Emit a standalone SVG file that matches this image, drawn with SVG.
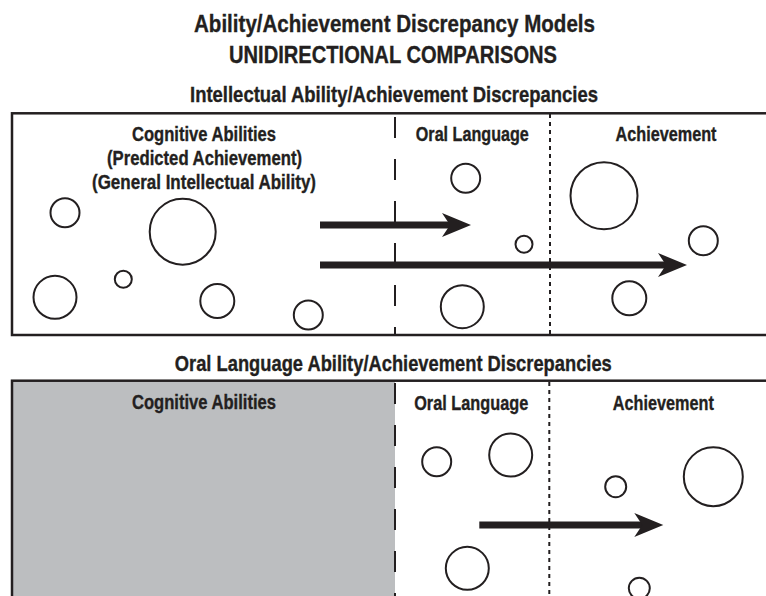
<svg xmlns="http://www.w3.org/2000/svg" width="766" height="596" viewBox="0 0 766 596">
<style>
text{font-family:'Liberation Sans Narrow','Liberation Sans',Arial,sans-serif;font-weight:bold;fill:#231f20;stroke:#231f20;stroke-width:0.35;text-anchor:middle}
.t1{font-size:24.5px}
.t2{font-size:21.5px}
.lb{font-size:19.5px}
.box{fill:none;stroke:#231f20;stroke-width:2.5}
.c{fill:#fff;stroke:#231f20;stroke-width:2}
.dash{stroke:#231f20;stroke-width:2;stroke-dasharray:21 21}
.dot{stroke:#231f20;stroke-width:2;stroke-dasharray:4 4}
.arr{stroke:#231f20;stroke-width:7;fill:none}
</style>
<defs>
<marker id="ah" markerUnits="userSpaceOnUse" viewBox="0 0 30 26" refX="10" refY="13" markerWidth="30" markerHeight="26" orient="auto">
<path d="M0,1 L29,13 L0,25 L8,13 Z" fill="#231f20"/>
</marker>
</defs>
<rect width="766" height="596" fill="#fff"/>
<g id="titles">
<text class="t1" x="394.5" y="31.7" textLength="401" lengthAdjust="spacingAndGlyphs">Ability/Achievement Discrepancy Models</text>
<text class="t1" x="393" y="63.3" textLength="328" lengthAdjust="spacingAndGlyphs">UNIDIRECTIONAL COMPARISONS</text>
<text class="t2" x="394" y="101.7" textLength="408" lengthAdjust="spacingAndGlyphs">Intellectual Ability/Achievement Discrepancies</text>
<text class="t2" x="393.3" y="370.7" textLength="437" lengthAdjust="spacingAndGlyphs">Oral Language Ability/Achievement Discrepancies</text>
</g>
<g id="panel-intellectual">
<rect class="box" x="12" y="113.3" width="770" height="221.7"/>
<line class="dash" x1="395" y1="117" x2="395" y2="335"/>
<line class="dot" x1="550" y1="114" x2="550" y2="335"/>
</g>
<g id="panel-oral">
<rect x="12" y="380.7" width="383" height="230" fill="#bcbec0"/>
<rect class="box" x="12" y="380.7" width="770" height="230"/>
<line class="dash" x1="395" y1="383" x2="395" y2="600"/>
<line class="dot" x1="549.3" y1="382" x2="549.3" y2="600"/>
</g>
<g id="node-cognitive-1">
<text class="lb" x="204" y="140.5" textLength="144" lengthAdjust="spacingAndGlyphs">Cognitive Abilities</text>
<text class="lb" x="204.5" y="164.5" textLength="195" lengthAdjust="spacingAndGlyphs">(Predicted Achievement)</text>
<text class="lb" x="204" y="188.5" textLength="224" lengthAdjust="spacingAndGlyphs">(General Intellectual Ability)</text>
<circle class="c" cx="65" cy="212.7" r="14.5"/>
<circle class="c" cx="182.7" cy="231.7" r="33"/>
<circle class="c" cx="123.3" cy="279.3" r="8.5"/>
<circle class="c" cx="55" cy="297.3" r="21.5"/>
<circle class="c" cx="217.3" cy="301" r="17"/>
<circle class="c" cx="308.3" cy="315" r="14.5"/>
</g>
<g id="node-oral-1">
<text class="lb" x="472.3" y="140.5" textLength="113" lengthAdjust="spacingAndGlyphs">Oral Language</text>
<circle class="c" cx="465.7" cy="178.3" r="14.5"/>
<circle class="c" cx="524" cy="244.3" r="8.5"/>
<circle class="c" cx="462.3" cy="306.7" r="21.5"/>
</g>
<g id="node-achievement-1">
<text class="lb" x="666" y="140.5" textLength="101" lengthAdjust="spacingAndGlyphs">Achievement</text>
<circle class="c" cx="604" cy="195.7" r="33.5"/>
<circle class="c" cx="703.3" cy="240.7" r="14.5"/>
<circle class="c" cx="629.3" cy="298.3" r="17"/>
</g>
<g id="node-cognitive-2">
<text class="lb" x="204" y="409" textLength="144" lengthAdjust="spacingAndGlyphs">Cognitive Abilities</text>
</g>
<g id="node-oral-2">
<text class="lb" x="471.2" y="410" textLength="114" lengthAdjust="spacingAndGlyphs">Oral Language</text>
<circle class="c" cx="436.7" cy="461.7" r="14.5"/>
<circle class="c" cx="510.7" cy="455" r="21.5"/>
<circle class="c" cx="467.3" cy="568.3" r="21.5"/>
</g>
<g id="node-achievement-2">
<text class="lb" x="663.3" y="410" textLength="101" lengthAdjust="spacingAndGlyphs">Achievement</text>
<circle class="c" cx="615.7" cy="486.7" r="10.5"/>
<circle class="c" cx="713.3" cy="476.7" r="29.5"/>
<circle class="c" cx="639.3" cy="588.3" r="10.5"/>
</g>
<g id="connectors">
<line class="arr" x1="320" y1="225" x2="452" y2="225" marker-end="url(#ah)"/>
<line class="arr" x1="320" y1="265" x2="668" y2="265" marker-end="url(#ah)"/>
<line class="arr" x1="479.3" y1="525" x2="644.3" y2="525" marker-end="url(#ah)"/>
</g>
</svg>
